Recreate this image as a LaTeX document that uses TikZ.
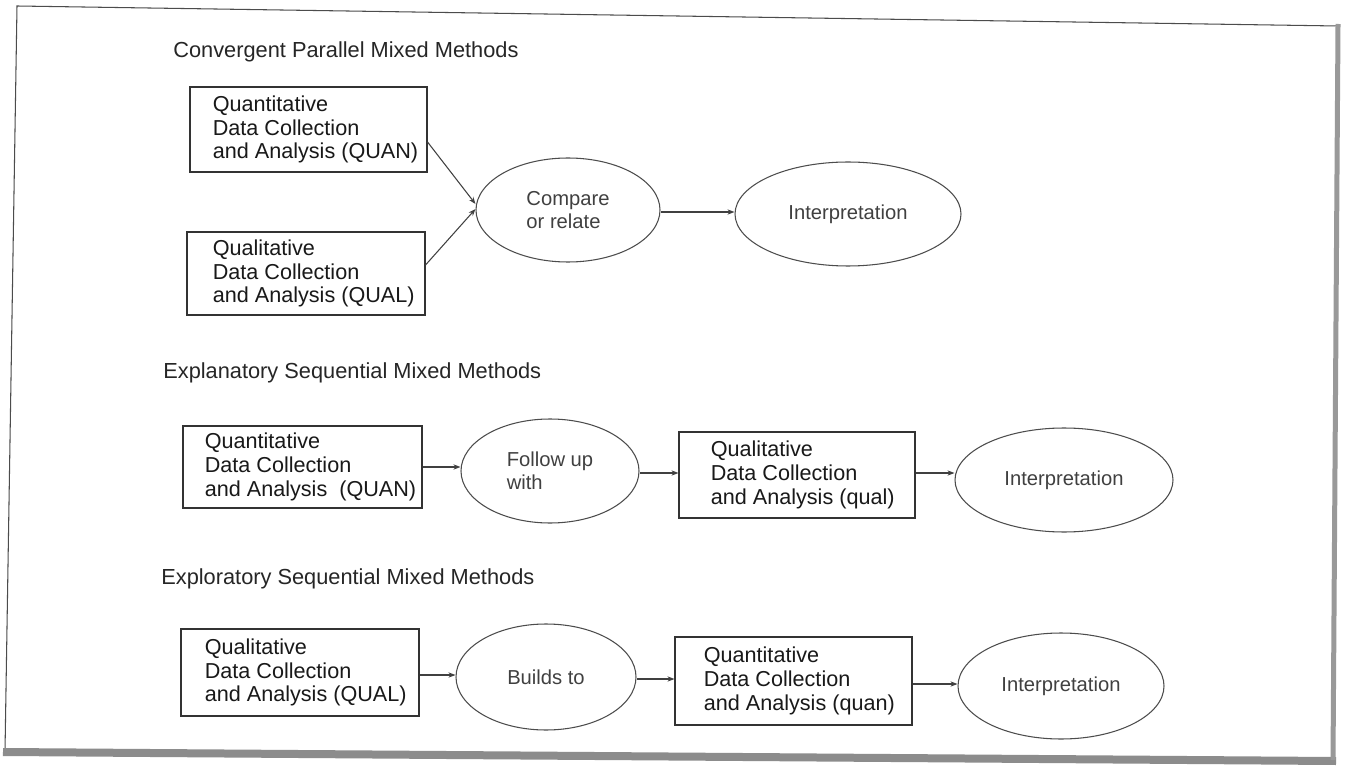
\documentclass[tikz,border=0pt]{standalone}
\usepackage{fontspec}
\setmainfont{Liberation Sans}
\usetikzlibrary{shapes.geometric,arrows.meta,calc}
\begin{document}
\begin{tikzpicture}[x=0.02cm,y=-0.02cm,
  ttl/.style={anchor=west, inner sep=0pt, font=\fontsize{12.4}{14}\selectfont, text=black!85},
  bx/.style 2 args={draw=black!80, line width=0.6pt, minimum width=#1*0.02cm, minimum height=#2*0.02cm, inner sep=0pt},
  btext/.style={anchor=west, align=left, inner sep=0pt, font=\fontsize{12.3}{13.6}\selectfont, text=black!90},
  ell/.style 2 args={ellipse, draw=black!70, line width=0.6pt, minimum width=#1*0.02cm, minimum height=#2*0.02cm, inner sep=0pt, align=left, font=\fontsize{11.5}{13}\selectfont, text=black!75},
  arr/.style={draw=black!75, line width=0.6pt, -{Stealth[length=4pt,width=3pt]}}
]
\useasboundingbox[fill=white] (0,0) rectangle (1348,780);

% frame
\draw[black!70, line width=0.6pt] (5,752) -- (17,6) -- (1338,26);
\draw[black!45, line width=0.16cm] (3,752) -- (1336,761);
\draw[black!40, line width=0.1cm] (1338,24) -- (1333,760);

% Convergent
\node[ttl] (t1) at (173,52) {Convergent Parallel Mixed Methods};
\node[bx={237}{85}] (b1) at (308.5,129.5) {};
\node[btext] (b1t) at ([xshift=0.46cm]b1.west) {Quantitative\\Data Collection\\and Analysis (QUAN)};
\node[bx={238}{83}] (b2) at (306,273.5) {};
\node[btext] (b2t) at ([xshift=0.52cm]b2.west) {Qualitative\\Data Collection\\and Analysis (QUAL)};
\node[ell={184}{104}] (cmp) at (568,210) {Compare\\or relate};
\node[ell={226}{104}] (i1) at (848,214) {Interpretation};
\draw[arr] ([yshift=-0.25cm]b1.east) -- ([yshift=0.12cm]cmp.west);
\draw[arr] ([yshift=0.17cm]b2.east) -- ([yshift=0.02cm]cmp.west);
\draw[arr] ([yshift=-0.04cm]cmp.east) -- ([yshift=-0.04cm]cmp.east -| i1.west);

% Explanatory
\node[ttl] (t2) at (163,373) {Explanatory Sequential Mixed Methods};
\node[bx={239}{82}] (b3) at (302.5,467) {};
\node[btext] (b3t) at ([xshift=0.44cm]b3.west) {Quantitative\\Data Collection\\and Analysis \ (QUAN)};
\node[ell={178}{104}] (fu) at (550,471) {Follow up\\with};
\node[bx={236}{86}] (b4) at (797,475) {};
\node[btext] (b4t) at ([xshift=0.64cm]b4.west) {Qualitative\\Data Collection\\and Analysis (qual)};
\node[ell={218}{104}] (i2) at (1064,480) {Interpretation};
\draw[arr] (b3.east) -- (b3.east -| fu.west);
\draw[arr] ([yshift=-0.04cm]fu.east) -- ([yshift=-0.04cm]fu.east -| b4.west);
\draw[arr] ([yshift=0.04cm]b4.east) -- ([yshift=0.04cm]b4.east -| i2.west);

% Exploratory
\node[ttl] (t3) at (161,579) {Exploratory Sequential Mixed Methods};
\node[bx={238}{87}] (b5) at (300,672.5) {};
\node[btext] (b5t) at ([xshift=0.48cm]b5.west) {Qualitative\\Data Collection\\and Analysis (QUAL)};
\node[ell={180}{106}] (bl) at (546,677) {Builds to};
\node[bx={237}{88}] (b6) at (793.5,681) {};
\node[btext] (b6t) at ([xshift=0.58cm]b6.west) {Quantitative\\Data Collection\\and Analysis (quan)};
\node[ell={206}{106}] (i3) at (1061,686) {Interpretation};
\draw[arr] ([yshift=-0.05cm]b5.east) -- ([yshift=-0.05cm]b5.east -| bl.west);
\draw[arr] ([yshift=-0.04cm]bl.east) -- ([yshift=-0.04cm]bl.east -| b6.west);
\draw[arr] ([yshift=-0.06cm]b6.east) -- ([yshift=-0.06cm]b6.east -| i3.west);
\end{tikzpicture}
\end{document}
